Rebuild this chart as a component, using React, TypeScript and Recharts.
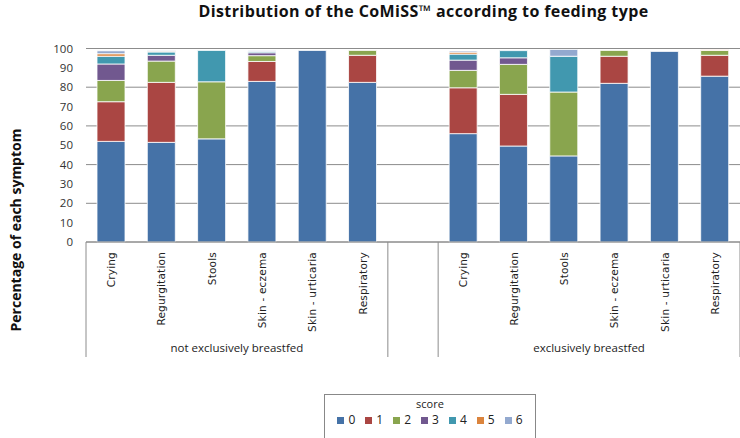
import React from 'react';
import { BarChart, Bar, XAxis, YAxis, CartesianGrid, Legend } from 'recharts';

// categories: two feeding groups, with one blank slot between them
const symptoms = ['Crying', 'Regurgitation', 'Stools', 'Skin - eczema', 'Skin - urticaria', 'Respiratory'];
const groups = ['not exclusively breastfed', 'exclusively breastfed'];
const categories = [...symptoms, '', ...symptoms];

// percentage of each score, per category (left group, blank, right group)
const score0 = [52, 51.5, 53.3, 83, 99, 82.5, null, 56, 49.6, 44.5, 82, 98.5, 85.7];
const score1 = [20.5, 31, 0, 10.3, 0, 14, null, 23.7, 26.7, 0, 14, 0, 10.8];
const score2 = [11, 11, 29.5, 3, 0, 2.5, null, 9, 15.5, 33, 3, 0, 2.5];
const score3 = [8.5, 3, 0, 1.5, 0, 0, null, 5.3, 3.4, 0, 0, 0, 0];
const score4 = [4, 1.7, 16.2, 0.6, 0, 0, null, 3.1, 3.7, 18.5, 0, 0, 0];
const score5 = [1.3, 0.4, 0, 0, 0, 0, null, 1, 0, 0, 0, 0, 0.3];
const score6 = [1.5, 0.4, 0, 0.5, 0, 0, null, 0.6, 0, 3.5, 0, 0, 0];

const scores = ['0', '1', '2', '3', '4', '5', '6'];
const series = [score0, score1, score2, score3, score4, score5, score6];
const COLORS = ['#4572A7', '#AA4643', '#89A54E', '#71588F', '#4198AF', '#DB843D', '#93A9CF'];
const yTicks = [0, 10, 20, 30, 40, 50, 60, 70, 80, 90, 100];

const data = categories.map((name, i) => {
  const row: Record<string, any> = { name };
  scores.forEach((s, k) => {
    row['s' + s] = series[k][i];
  });
  return row;
});

const W = 740;
const H = 438;
const PLOT_LEFT = 86;
const PLOT_TOP = 48.5;
const PLOT_BOTTOM = 242;
const SLOT = (W - PLOT_LEFT) / categories.length;

const CategoryTick = (props: any) => {
  const { x, payload, index } = props;
  const label = payload.value;
  const parts: React.ReactNode[] = [];
  if (label) {
    parts.push(
      <text
        key="t"
        transform={`translate(${x + 4},252) rotate(-90)`}
        textAnchor="end"
        fontFamily="DejaVu Sans"
        fontSize={10.5}
        letterSpacing={0.2}
        fill="#222"
      >
        {label}
      </text>
    );
  }
  // group boxes: left border + group name at the first item of each group
  if (index === 0 || index === 7) {
    parts.push(<line key="l" x1={x - SLOT / 2} x2={x - SLOT / 2} y1={PLOT_BOTTOM} y2={357} stroke="#8c8c8c" />);
    parts.push(
      <text key="g" x={x + 2.5 * SLOT} y={352} textAnchor="middle" fontFamily="Open Sans" fontSize={11.5} fill="#222">
        {groups[index === 0 ? 0 : 1]}
      </text>
    );
  }
  if (index === 5 || index === 12) {
    parts.push(<line key="r" x1={x + SLOT / 2} x2={x + SLOT / 2} y1={PLOT_BOTTOM} y2={357} stroke="#8c8c8c" />);
  }
  return <g>{parts}</g>;
};

const ScoreLegend = (props: any) => {
  const { payload } = props;
  return (
    <div
      style={{
        width: 212,
        height: 46,
        border: '1px solid #888',
        boxSizing: 'border-box',
        fontFamily: 'Open Sans',
        color: '#222',
        textAlign: 'center',
      }}
    >
      <div style={{ fontSize: 11, lineHeight: '13px', marginTop: 2 }}>score</div>
      <div style={{ display: 'flex', justifyContent: 'center', gap: 10, fontSize: 12, lineHeight: '14px', marginTop: 3 }}>
        {payload.map((p: any) => (
          <span key={p.value} style={{ display: 'flex', alignItems: 'center' }}>
            <span style={{ width: 7, height: 7, background: p.color, marginRight: 4, display: 'inline-block' }} />
            {p.value}
          </span>
        ))}
      </div>
    </div>
  );
};

export default function App() {
  return (
    <div style={{ position: 'absolute', left: 0, top: 0, width: W, height: H, background: '#fff', overflow: 'hidden' }}>
      <div
        style={{
          position: 'absolute',
          left: 150,
          width: 547,
          top: 0,
          textAlign: 'center',
          fontFamily: 'Open Sans',
          fontWeight: 'bold',
          fontSize: 16,
          letterSpacing: 0.4,
          color: '#111',
          whiteSpace: 'nowrap',
        }}
      >
        Distribution of the CoMiSS™ according to feeding type
      </div>
      <div
        style={{
          position: 'absolute',
          left: 15,
          top: 230,
          transform: 'translate(-50%,-50%) rotate(-90deg)',
          fontFamily: 'Open Sans',
          fontWeight: 'bold',
          fontSize: 14,
          color: '#111',
          whiteSpace: 'nowrap',
        }}
      >
        Percentage of each symptom
      </div>
      <BarChart
        width={W}
        height={H}
        data={data}
        barSize={28}
        margin={{ top: PLOT_TOP, right: 0, bottom: 0, left: PLOT_LEFT - 60 }}
      >
        <CartesianGrid vertical={false} stroke="#8c8c8c" />
        <XAxis
          dataKey="name"
          interval={0}
          height={H - PLOT_BOTTOM}
          tickLine={false}
          axisLine={{ stroke: '#8c8c8c' }}
          tick={<CategoryTick />}
        />
        <YAxis
          width={60}
          domain={[0, 100]}
          ticks={yTicks}
          axisLine={false}
          tickLine={false}
          tickMargin={7}
          tick={{ fontFamily: 'Open Sans', fontSize: 11.5, fill: '#333' }}
        />
        <Legend
          layout="vertical"
          align="center"
          verticalAlign="middle"
          wrapperStyle={{ left: 324, top: 394, width: 212 }}
          content={<ScoreLegend />}
        />
        {scores.map((s, k) => (
          <Bar
            key={s}
            dataKey={'s' + s}
            name={s}
            stackId="a"
            fill={COLORS[k]}
            stroke="#fff"
            strokeWidth={0.8}
            isAnimationActive={false}
          />
        ))}
      </BarChart>
    </div>
  );
}
